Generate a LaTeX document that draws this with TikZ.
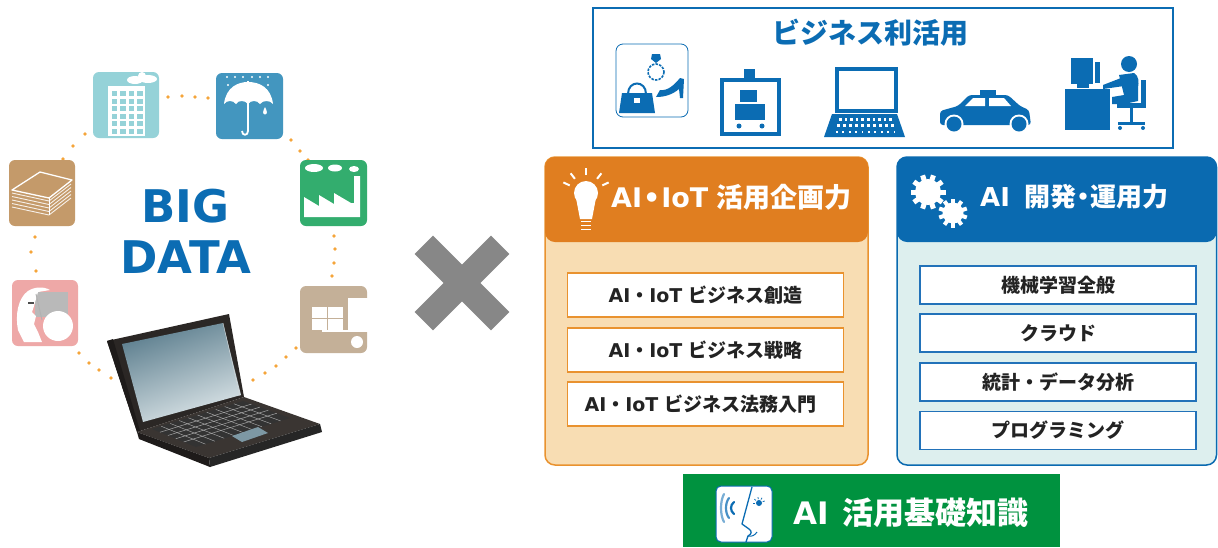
\documentclass[tikz,border=0pt]{standalone}
\usepackage{fontspec}
\setmainfont{Noto Sans CJK JP}
\newfontfamily\latfont{DejaVu Sans}
\newcommand\latw[1]{{\latfont\bfseries #1}}
\usetikzlibrary{calc}

\definecolor{bizblue}{HTML}{0B6CB3}
\definecolor{orhead}{HTML}{E07E20}
\definecolor{orline}{HTML}{E9922F}
\definecolor{peach}{HTML}{F8DDB3}
\definecolor{bluehead}{HTML}{0A6AB0}
\definecolor{tealbody}{HTML}{DDEFEE}
\definecolor{itemblue}{HTML}{2272B9}
\definecolor{aigreen}{HTML}{00923F}
\definecolor{xgray}{HTML}{878787}
\definecolor{dotor}{HTML}{F5A53A}
\definecolor{txt}{HTML}{232323}
\definecolor{bldg}{HTML}{95D2D8}
\definecolor{umb}{HTML}{4396BF}
\definecolor{fac}{HTML}{33AD6E}
\definecolor{bookc}{HTML}{C49A6A}
\definecolor{headc}{HTML}{EEA8A7}
\definecolor{mach}{HTML}{C4B098}
\definecolor{lapdark}{HTML}{2B2725}
\definecolor{lapdeck}{HTML}{3A3532}
\definecolor{lapside}{HTML}{1E1B1A}
\definecolor{scrdark}{HTML}{5C7E8E}
\definecolor{scrlight}{HTML}{DCE5E8}

\tikzset{
  panelitem/.style={fill=white, line width=1.6pt, minimum width=276pt,
    font=\bfseries\fontsize{19pt}{22pt}\selectfont, text=txt, inner sep=0pt},
  oitem/.style={panelitem, draw=orline, minimum height=44pt},
  bitem/.style={panelitem, draw=itemblue, minimum height=38pt},
  headtext/.style={text=white, inner sep=0pt, anchor=west},
  ringdot/.style={fill=dotor},
  tile/.style={rounded corners=6pt},
}

\begin{document}
\begin{tikzpicture}[x=1pt,y=-1pt]
\useasboundingbox (0,0) rectangle (1218,547);
\fill[white] (0,0) rectangle (1218,547);

% ---------- data sources around the laptop ----------
\foreach \p in {(168,97),(182,96),(195,97),(208,98),
                (85,134),(73,146),(63,159),
                (291,140),(300,151),(308,160),
                (35,237),(31,252),(36,271),
                (79,353),(89,363),(99,370),(111,378),
                (334,236),(335,249),(334,263),(332,276),
                (296,348),(286,357),(276,366),(265,373),(253,380)}
  \fill[ringdot] \p circle (1.9);

% building
\begin{scope}[shift={(93,72)}]
  \fill[bldg, tile] (0,0) rectangle (66,66);
  \fill[white] (15,14) rectangle (52,64);
  \foreach \i in {0,...,3} \foreach \j in {0,...,5}
    \fill[bldg] (18.5+\i*8.5,19+\j*7.5) rectangle ++(5.5,5);
  \fill[white] (42,8) ellipse (8 and 4);
  \fill[white] (55,7) ellipse (9 and 4);
  \fill[white] (49,4) circle (4);
\end{scope}

% umbrella
\begin{scope}[shift={(216,73)}]
  \fill[umb, tile] (0,0) rectangle (67,66);
  \foreach \x in {11,19,27,36,44,52} \fill[white] (\x,4) circle (1.1);
  \fill[white] (12,12) circle (1.1); \fill[white] (52,12) circle (1.1);
  \fill[white] (8,31) .. controls (10,14) and (22,9) .. (32,9)
     .. controls (43,9) and (55,14) .. (57,31)
     .. controls (54,27) and (47,27) .. (44,31)
     .. controls (41,27) and (35,27) .. (32,31)
     .. controls (29,27) and (22,27) .. (20,31)
     .. controls (17,27) and (11,27) .. (8,31) -- cycle;
  \draw[white, line width=1.8] (32,8) -- (32,58) .. controls (32,63) and (26,63) .. (26,58);
  \fill[white] (49,34) .. controls (47,38) and (46,41) .. (49,41.5)
     .. controls (52,41) and (51,38) .. (49,34) -- cycle;
\end{scope}

% factory
\begin{scope}[shift={(300,160)}]
  \fill[fac, tile] (0,0) rectangle (67,66);
  \fill[white] (14,8) ellipse (9 and 4);
  \fill[white] (35,8) ellipse (7 and 3.5);
  \fill[white] (54,9) ellipse (5 and 3);
  \fill[white] (4,57) -- (4,37) -- (19,46) -- (19,35) -- (34,44) -- (34,33)
     -- (51,43) -- (54,43) -- (54,16) -- (60,16) -- (60,57) -- cycle;
\end{scope}

% stack of paper
\begin{scope}[shift={(9,160)}]
  \fill[bookc, tile] (0,0) rectangle (66,66);
  \draw[white, line width=1.3, line join=round] (3,30) -- (31,12) -- (63,20) -- (40,38) -- cycle;
  \foreach \k in {0,...,4}
    \draw[white, line width=0.9, opacity=0.85] (3,33+\k*3.5) -- (40,41+\k*3.5) -- (62,24+\k*3.5);
  \draw[white, line width=1] (40,38) -- (40,55);
\end{scope}

% head and gears
\begin{scope}[shift={(12,280)}]
  \fill[headc, tile] (0,0) rectangle (66,66);
  \fill[gray!55] (23,12) rectangle (56,37);
  \fill[white] (6,50) .. controls (3,35) and (6,18) .. (16,11)
     .. controls (22,7) and (31,6) .. (38,10) -- (26,12)
     -- (22,26) -- (20,32) -- (24,36) -- (22,44) -- (26,52) -- (30,62) -- (12,62) -- cycle;
  \fill[white] (46,46) circle (15);
  \draw[gray!60, line width=1] (24,14) -- (30,40);
  \fill[black!70] (16,22) rectangle (22,24);
\end{scope}

% machine
\begin{scope}[shift={(300,286)}]
  \fill[mach, tile] (0,0) rectangle (67,67);
  \fill[white] (48,12) rectangle (67.5,46);
  \fill[white] (12,21) rectangle (43,44);
  \draw[mach, line width=1] (27.5,21) -- (27.5,44) (12,32.5) -- (43,32.5);
  \draw[white, line width=1.2] (22,45) -- (48,45);
  \fill[white] (57,56) circle (6);
\end{scope}

% laptop
\coordinate (lidA) at (107,341);
\coordinate (lidB) at (229,314);
\coordinate (lidC) at (244,397);
\coordinate (lidD) at (137,432);
\coordinate (deckR) at (320,424);
\coordinate (deckF) at (209,458);
\fill[lapdark] (lidA) -- (lidB) -- (lidC) -- (lidD) -- cycle;
\fill[lapside] (lidA) -- (113,339) -- (140,431) -- (lidD) -- cycle;
\shade[top color=scrdark, bottom color=scrlight, shading angle=20]
  (122,344) -- (223,323) -- (241,395) -- (143,422) -- cycle;
\draw[white!70!gray, line width=0.4] (223,323) -- (240,396);
\fill[lapdeck] (lidD) -- (lidC) -- (deckR) -- (deckF) -- cycle;
\fill[lapside] (lidD) -- (deckF) -- (210,467) -- (139,439) -- cycle;
\fill[black!85] (deckF) -- (deckR) -- (322,432) -- (210,467) -- cycle;
\coordinate (kbl) at (152,429);
\coordinate (kbr) at (243,401);
\coordinate (kfr) at (290,418);
\coordinate (kfl) at (196,447);
\fill[black!80] (kbl) -- (kbr) -- (kfr) -- (kfl) -- cycle;
\foreach \t in {0.18,0.36,0.54,0.72}
  \draw[gray!70, line width=0.5] ($(kbl)!\t!(kfl)$) -- ($(kbr)!\t!(kfr)$);
\foreach \t in {0.1,0.2,...,0.95}
  \draw[gray!60, line width=0.4] ($(kbl)!\t!(kbr)$) -- ($(kfl)!\t!(kfr)$);
\fill[scrdark!80!white] (232,436) -- (258,427) -- (268,433) -- (242,442) -- cycle;

% label in the middle of the ring
\node[text=bizblue, font=\latfont\bfseries\fontsize{45pt}{50pt}\selectfont, inner sep=0pt]
  (big) at (185,206) {BIG};
\node[text=bizblue, font=\latfont\bfseries\fontsize{45pt}{50pt}\selectfont, inner sep=0pt]
  (data) at (186,257) {DATA};

% ---------- multiplication sign ----------
\fill[xgray, rotate around={45:(462,283)}] (408,270) rectangle (516,296);
\fill[xgray, rotate around={-45:(462,283)}] (408,270) rectangle (516,296);

% ---------- business use ----------
\draw[bizblue, line width=2] (593,8) rectangle (1173,148);
\node[text=bizblue, font=\bfseries\fontsize{28pt}{32pt}\selectfont, inner sep=0pt]
  (biz) at (870,33) {ビジネス利活用};

% shopping goods
\draw[bizblue, line width=0.8, fill=white, rounded corners=7] (616,44) rectangle (688,117);
\fill[bizblue] (622,93) -- (652,93) -- (655,113) -- (619,113) -- cycle;
\draw[bizblue, line width=2] (628,94) .. controls (628,80) and (646,80) .. (646,94);
\fill[white] (634,98) rectangle (640,103);
\draw[bizblue, line width=1.6, dash pattern=on 2.5pt off 1.2pt] (656,72) circle (8);
\fill[bizblue] (652,54) -- (660,54) -- (661,59) -- (656,63) -- (651,59) -- cycle;
\fill[bizblue] (656,97) -- (660,90) .. controls (668,91) and (674,85) .. (680,78)
  -- (684,79) -- (683,98) -- (680,98) -- (679,89)
  .. controls (672,95) and (664,97) .. (656,97) -- cycle;

% luggage on a scale
\draw[bizblue, line width=4] (722,80) rectangle (779,134);
\fill[bizblue] (744,69) rectangle (755,80);
\fill[bizblue] (740,90) rectangle (757,102);
\fill[bizblue] (735,104) rectangle (765,120);
\fill[bizblue] (739,126) circle (2.5);
\fill[bizblue] (762,126) circle (2.5);

% notebook
\draw[bizblue, line width=3.5] (837,69) rectangle (896,111);
\fill[bizblue] (832,114) -- (897,114) -- (905,137) -- (824,137) -- cycle;
\foreach \i in {0,...,9} {
  \fill[white] (839+\i*5.6,117.5) rectangle ++(2.6,3.5);
  \fill[white] (837+\i*6,123.5) rectangle ++(2.8,3.5);
  \fill[white] (836+\i*6.4,131) rectangle ++(1.8,1.8);
}

% taxi
\fill[bizblue] (980,90) rectangle (996,95);
\fill[bizblue, rounded corners=3] (940,125) -- (940,111) -- (958,106) -- (969,95)
  -- (1008,95) -- (1020,106) -- (1029,110) -- (1031,125) -- cycle;
\fill[white] (965,106) -- (973,98) -- (985,98) -- (985,106) -- cycle;
\fill[white] (989,106) -- (989,98) -- (1004,98) -- (1011,106) -- cycle;
\foreach \c in {(954,124),(1019,124)} {
  \fill[white] \c circle (9.5);
  \fill[bizblue] \c circle (7.5);
}

% office worker
\fill[bizblue] (1071,58) rectangle (1093,84);
\fill[bizblue] (1095,62) rectangle (1100,83);
\fill[bizblue] (1077,84) rectangle (1089,88);
\fill[bizblue] (1065,89) rectangle (1110,130);
\fill[bizblue] (1129,64) circle (8);
\fill[bizblue] (1119,75) -- (1134,73) .. controls (1139,76) and (1139,82) .. (1138,88)
  -- (1138,101) -- (1124,104) -- (1112,104) -- (1112,97) -- (1124,95) -- cycle;
\fill[bizblue] (1121,78) -- (1103,85) -- (1103,89) -- (1124,86) -- cycle;
\fill[bizblue] (1141,80) rectangle (1146,105);
\fill[bizblue] (1117,103) rectangle (1146,108);
\fill[bizblue] (1130,108) rectangle (1133,122);
\fill[bizblue] (1118,122) rectangle (1145,125);
\fill[bizblue] (1120,128) circle (2);
\fill[bizblue] (1143,128) circle (2);

% ---------- planning skills ----------
\draw[orline, line width=1.5, fill=peach, rounded corners=10] (545,157) rectangle (868,465);
\fill[orhead, rounded corners=10] (545,157) rectangle (868,242);
% light bulb
\fill[white] (586,193) circle (12);
\fill[white] (576,198) -- (596,198) -- (592,219) -- (580,219) -- cycle;
\foreach \yy in {221.5,225.5,229.5} \draw[white, line width=1.6] (581,\yy) -- (591,\yy);
\foreach \a in {-25,-52,-90,-128,-155}
  \draw[white, line width=2] ($(586,193)+(\a:18)$) -- ($(586,193)+(\a:25)$);
\node[headtext, font=\bfseries\fontsize{27pt}{30pt}\selectfont] (planhead) at (611,197)
  {\latw{AI\kern1pt•\kern1ptIoT}\hspace{8pt}活用企画力};
\node[oitem] (o1) at (705.5,295) {\latw{AI}・\latw{IoT}\hspace{6pt}ビジネス創造};
\node[oitem] (o2) at (705.5,350) {\latw{AI}・\latw{IoT}\hspace{6pt}ビジネス戦略};
\node[oitem] (o3) at (705.5,404) {\latw{AI}・\latw{IoT}\hspace{6pt}ビジネス法務入門\kern10pt};

% ---------- development skills ----------
\draw[bluehead, line width=1.5, fill=tealbody, rounded corners=10] (897,157) rectangle (1216.5,465);
\fill[bluehead, rounded corners=10] (897,157) rectangle (1216.5,242);
% gears
\fill[white] (928,192) circle (13);
\foreach \a in {0,36,72,108,144}
  \fill[white, rotate around={\a:(928,192)}] (910.5,189.5) rectangle (945.5,194.5);
\fill[white] (953,213) circle (10.5);
\foreach \a in {18,54,90,126,162}
  \fill[white, rotate around={\a:(953,213)}] (938.5,211) rectangle (967.5,215);
\node[headtext, font=\bfseries\fontsize{26pt}{30pt}\selectfont] (devhead) at (980,197)
  {\latw{AI}\hspace{14pt}開発\kern-6pt・\kern-6pt運用力};
\node[bitem] (b1) at (1058,285) {機械学習全般};
\node[bitem] (b2) at (1058,333) {クラウド};
\node[bitem] (b3) at (1058,382) {統計・データ分析};
\node[bitem] (b4) at (1058,430.5) {プログラミング};

% ---------- basic knowledge ----------
\fill[aigreen] (683,474) rectangle (1060,547);
\draw[bizblue, line width=1, fill=white, rounded corners=5] (716,486) rectangle (772,542);
\draw[bizblue, line width=1.3, line join=round]
  (752,487) -- (742,524) -- (749,529) .. controls (752,531) and (752,534) .. (748,536) -- (746,542);
\draw[bizblue, line width=1] (748,536) .. controls (752,537) and (755,535) .. (757,532);
\fill[bizblue] (759,503) circle (3);
\foreach \a in {-20,-60,-100,-140,-180}
  \draw[bizblue, line width=0.8] ($(759,503)+(\a:4)$) -- ($(759,503)+(\a:6)$);
\foreach \x/\h/\o in {724/14/0.55,729/10/0.75,734/6/1}
  \draw[bizblue, opacity=\o, line width=2.2, line cap=round]
    (\x,508-\h) .. controls (\x-4,508-\h/2) and (\x-4,508+\h/2) .. (\x,508+\h);
\node[headtext, font=\bfseries\fontsize{31pt}{34pt}\selectfont] (basic) at (793,513)
  {\latw{AI}\hspace{14pt}活用基礎知識};
\end{tikzpicture}
\end{document}
